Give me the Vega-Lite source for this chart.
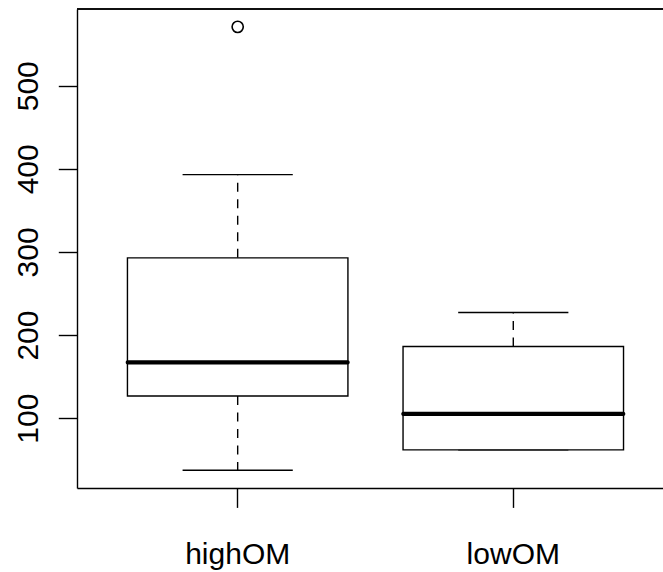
{
  "$schema": "https://vega.github.io/schema/vega-lite/v6.json",
  "autosize": {"type": "none"},
  "padding": {"left": 77, "top": 9, "right": 0, "bottom": 84},
  "width": 586,
  "height": 479,
  "background": "white",
  "config": {
    "view": {"stroke": null},
    "font": "Liberation Sans",
    "axis": {"grid": false, "domainColor": "black", "tickColor": "black", "labelColor": "black", "domainWidth": 1.4, "tickWidth": 1.4, "labelFont": "Liberation Sans", "labelFontSize": 30, "title": null}
  },
  "datasets": {
    "boxes": [
      {"group": "highOM", "lo": 37.3, "q1": 126.7, "med": 167.1, "q3": 292.9, "hi": 393},
      {"group": "lowOM", "lo": 61.9, "q1": 61.9, "med": 105.1, "q3": 186.3, "hi": 227.2}
    ],
    "outliers": [
      {"group": "highOM", "value": 570.8}
    ]
  },
  "data": {"name": "boxes"},
  "encoding": {
    "x": {
      "field": "group", "type": "nominal", "sort": ["highOM", "lowOM"],
      "scale": {"type": "band", "paddingInner": 0.2, "paddingOuter": 0.16313, "align": 0.561},
      "axis": {"orient": "bottom", "labelAngle": 0, "tickSize": 19.4, "labelBaseline": "alphabetic", "labelPadding": 55.6, "labelAlign": "center"}
    }
  },
  "layer": [
    {
      "mark": {"type": "rule", "color": "black", "strokeWidth": 1.4, "strokeDash": [9, 7.5], "opacity": 1},
      "encoding": {
        "y": {"field": "q3", "type": "quantitative", "scale": {"domain": [16, 592.3], "nice": false, "zero": false},
          "axis": {"orient": "left", "values": [100, 200, 300, 400, 500], "labelAngle": -90, "labelAlign": "center", "labelBaseline": "alphabetic", "tickSize": 18.7, "labelPadding": 20.7}},
        "y2": {"field": "hi"}
      }
    },
    {
      "mark": {"type": "rule", "color": "black", "strokeWidth": 1.4, "strokeDash": [9, 7.5], "opacity": 1},
      "encoding": {
        "y": {"field": "q1", "type": "quantitative"},
        "y2": {"field": "lo"}
      }
    },
    {
      "mark": {"type": "tick", "color": "black", "thickness": 1.4, "size": 110.2, "opacity": 1},
      "encoding": {"y": {"field": "hi", "type": "quantitative"}}
    },
    {
      "mark": {"type": "tick", "color": "black", "thickness": 1.4, "size": 110.2, "opacity": 1},
      "encoding": {"y": {"field": "lo", "type": "quantitative"}}
    },
    {
      "mark": {"type": "bar", "fill": "white", "stroke": "black", "strokeWidth": 1.4, "opacity": 1},
      "encoding": {
        "y": {"field": "q1", "type": "quantitative"},
        "y2": {"field": "q3"}
      }
    },
    {
      "mark": {"type": "tick", "color": "black", "thickness": 4.2, "size": 224, "cornerRadius": 2, "opacity": 1},
      "encoding": {"y": {"field": "med", "type": "quantitative"}}
    },
    {
      "data": {"name": "outliers"},
      "mark": {"type": "point", "shape": "circle", "filled": false, "color": "black", "strokeWidth": 1.6, "size": 125, "opacity": 1},
      "encoding": {"y": {"field": "value", "type": "quantitative"}}
    },
    {
      "mark": {"type": "rule", "color": "black", "strokeWidth": 1.4},
      "encoding": {"y": {"datum": 592.3}, "x": null}
    }
  ]
}
